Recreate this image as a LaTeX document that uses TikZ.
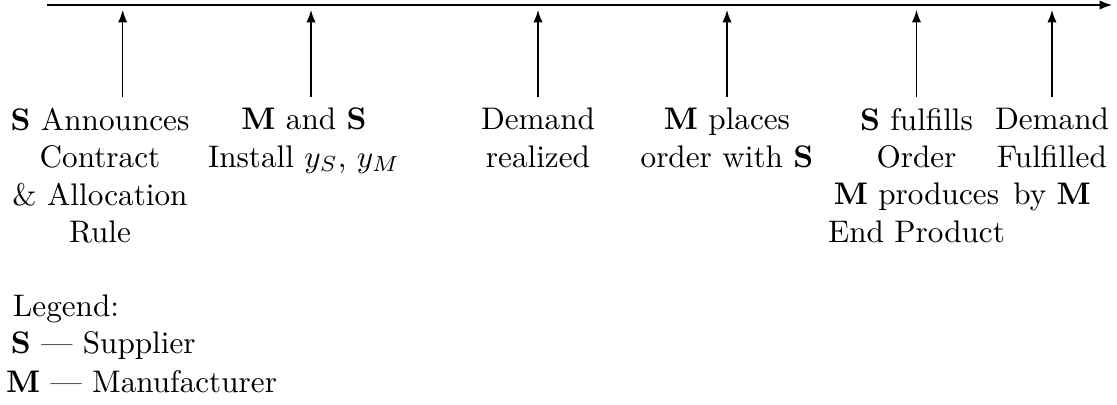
\documentclass[tikz,border=0pt]{standalone}
\usetikzlibrary{arrows.meta}
\begin{document}
\begin{tikzpicture}[x=0.3205pt,y=-0.3205pt,
  evt/.style={anchor=north,align=center,inner sep=3.333pt},
  tick/.style={-{Latex[length=4pt,width=3pt]}},
  lg/.style={anchor=base west,inner sep=0pt}]
\useasboundingbox (0,0) rectangle (1117,404);
% time axis
\coordinate (start) at (47,5);
\coordinate (end) at (1112,5);
\draw[tick] (start) -- (end);
% arrow tips under the axis
\coordinate (t1) at (122.7,10);
\coordinate (t2) at (311,10);
\coordinate (t3) at (538,10);
\coordinate (t4) at (727,10);
\coordinate (t5) at (916.5,10);
\coordinate (t6) at (1052,10);
% events
\node[evt] (e1) at (100,97)   {\textbf{S} Announces\\Contract\\\& Allocation\\Rule};
\node[evt] (e2) at (304,97)   {\textbf{M} and \textbf{S}\\Install $y_S$, $y_M$};
\node[evt] (e3) at (538,97)   {Demand\\realized};
\node[evt] (e4) at (727,97)   {\textbf{M} places\\order with \textbf{S}};
\node[evt] (e5) at (916.5,97) {\textbf{S} fulfills\\Order\\\textbf{M} produces\\End Product};
\node[evt] (e6) at (1052,97)  {Demand\\Fulfilled\\by \textbf{M}};
\draw[tick] (e1.north -| t1) -- (t1);
\draw[tick] (e2.north -| t2) -- (t2);
\draw[tick] (e3.north -| t3) -- (t3);
\draw[tick] (e4.north -| t4) -- (t4);
\draw[tick] (e5.north -| t5) -- (t5);
\draw[tick] (e6.north -| t6) -- (t6);
% legend
\node[lg] (lg0) at (12.3,316) {Legend:};
\node[lg] (lg1) at (10.3,353) {\textbf{S} --- Supplier};
\node[lg] (lg2) at (5.5,392)  {\textbf{M} --- Manufacturer};
\end{tikzpicture}
\end{document}
